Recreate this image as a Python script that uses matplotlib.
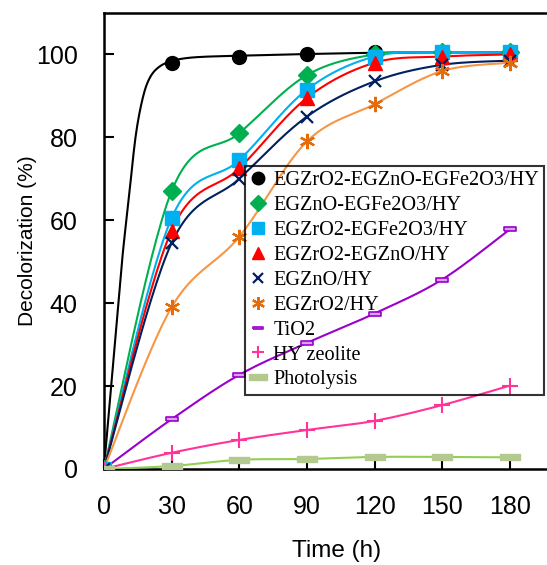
import numpy as np
import matplotlib.pyplot as plt
from matplotlib.lines import Line2D

# Sampling times (h)
time = [0, 30, 60, 90, 120, 150, 180]

# Decolorization (%)
zr_zn_fe = [0, 98, 99.5, 100, 100.5, 100.5, 100.5]
zn_fe = [0, 67, 81, 95, 100, 100.5, 100.5]
zr_fe = [0, 60.5, 74.5, 91.5, 99.5, 100.5, 100.5]
zr_zn = [0, 57.5, 72.5, 89.5, 98, 99.5, 100]
zn_hy = [0, 54.5, 70, 85, 93.5, 97.5, 98.5]
zr_hy = [0, 39, 56, 79, 88, 96, 98]
tio2 = [0, 12, 22.7, 30.4, 37.5, 45.7, 57.8]
hy_zeolite = [0, 3.9, 7.0, 9.4, 11.6, 15.4, 20.1]
photolysis = [0, 0.7, 2.2, 2.4, 2.9, 2.9, 2.8]

# trend line of the best catalyst
zr_zn_fe_line_t = [0, 4, 8, 11, 14, 17, 20, 24, 30, 40, 60, 90, 120, 150, 180]
zr_zn_fe_line_y = [0, 25, 50, 65, 80, 89, 94, 96.8, 98.4, 99.3, 99.7, 100.1, 100.4, 100.5, 100.5]

labels = ["EGZrO2-EGZnO-EGFe2O3/HY", "EGZnO-EGFe2O3/HY", "EGZrO2-EGFe2O3/HY",
          "EGZrO2-EGZnO/HY", "EGZnO/HY", "EGZrO2/HY", "TiO2", "HY zeolite", "Photolysis"]


def smooth(x, y, n=30):
    # Excel-like smoothed line: cubic Bezier with Catmull-Rom control points
    x = np.asarray(x, float)
    y = np.asarray(y, float)
    p = np.column_stack([x, y])
    out = []
    for i in range(len(p) - 1):
        p0 = p[i - 1] if i > 0 else p[i]
        p3 = p[i + 2] if i + 2 < len(p) else p[i + 1]
        c1 = p[i] + (p[i + 1] - p0) / 6
        c2 = p[i + 1] - (p3 - p[i]) / 6
        t = np.linspace(0, 1, n)[:, None]
        seg = ((1 - t) ** 3 * p[i] + 3 * (1 - t) ** 2 * t * c1
               + 3 * (1 - t) * t ** 2 * c2 + t ** 3 * p[i + 1])
        out.append(seg)
    out = np.vstack(out)
    return out[:, 0], out[:, 1]


plt.rcParams['font.family'] = ['Liberation Sans', 'DejaVu Sans']

fig = plt.figure(figsize=(5.47, 5.65), dpi=100)
ax = fig.add_axes([0.19, 0.17, 0.81, 0.807])

rect_bar = [(-1, -0.3), (1, -0.3), (1, 0.3), (-1, 0.3), (-1, -0.3)]

# (values, line colour, marker style)
series = [
    (zn_fe, '#00b050', dict(marker='D', ms=9, mfc='#00b050', mec='#00b050')),
    (zr_fe, '#00b0f0', dict(marker='s', ms=10, mfc='#00b0f0', mec='#00b0f0')),
    (zr_zn, '#ff0000', dict(marker='^', ms=10, mfc='#ff0000', mec='#ff0000')),
    (zn_hy, '#002060', dict(marker='x', ms=9, mec='#002060', mew=1.6)),
    (zr_hy, '#f79646', dict(marker=(6, 2, 0), ms=11, mec='#e46c0a', mew=1.6)),
    (tio2, '#9900cc', dict(marker=rect_bar, ms=8, mfc='#d9a0f0', mec='#9900cc', mew=1.2)),
    (hy_zeolite, '#ff3399', dict(marker='+', ms=11, mec='#ff3399', mew=1.5)),
    (photolysis, '#92d050', dict(marker=rect_bar, ms=15, mfc='#b4c98f', mec='#b4c98f')),
]

# black trend line and markers
lx, ly = smooth(zr_zn_fe_line_t, zr_zn_fe_line_y, 12)
ax.plot(lx, ly, color='black', lw=1.5, zorder=3)
ax.plot(time, zr_zn_fe, ls='none', marker='o', ms=10, color='black', zorder=4)

for vals, col, mk in series:
    sx, sy = smooth(time, vals)
    ax.plot(sx, sy, color=col, lw=1.5, zorder=3)
    ax.plot(time, vals, ls='none', zorder=4, **mk)

ax.set_xlim(0, 196.5)
ax.set_ylim(0, 110)
ax.set_xticks(time)
ax.set_yticks([0, 20, 40, 60, 80, 100])
ax.tick_params(axis='both', direction='in', length=7, width=1.5, labelsize=18)
ax.tick_params(axis='x', pad=19)
ax.tick_params(axis='y', pad=19)
for s in ['left', 'bottom', 'top']:
    ax.spines[s].set_linewidth(1.8)
ax.spines['right'].set_visible(False)

ax.set_xlabel("Time (h)", fontsize=17.5)
ax.xaxis.set_label_coords(0.525, -0.155)
ax.set_ylabel("Decolorization (%)", fontsize=15)
ax.yaxis.set_label_coords(-0.15, 0.5)

# legend with marker-only handles, transparent box
handles = [Line2D([], [], ls='none', marker='o', ms=9, color='black')]
for vals, col, mk in series:
    mk2 = dict(mk)
    mk2['ms'] = mk['ms'] * 0.85
    handles.append(Line2D([], [], ls='none', **mk2))
leg = ax.legend(handles, labels, loc='upper left', bbox_to_anchor=(0.318, 0.664),
                borderaxespad=0, frameon=True, fancybox=False,
                edgecolor='black', handlelength=0.8, handletextpad=0.35,
                labelspacing=0.28, borderpad=0.25,
                prop={'family': 'Liberation Serif', 'size': 14.6})
leg.get_frame().set_linewidth(1.5)
leg.get_frame().set_facecolor('none')
leg.set_zorder(5)

fig.savefig("out.png", dpi=100)
